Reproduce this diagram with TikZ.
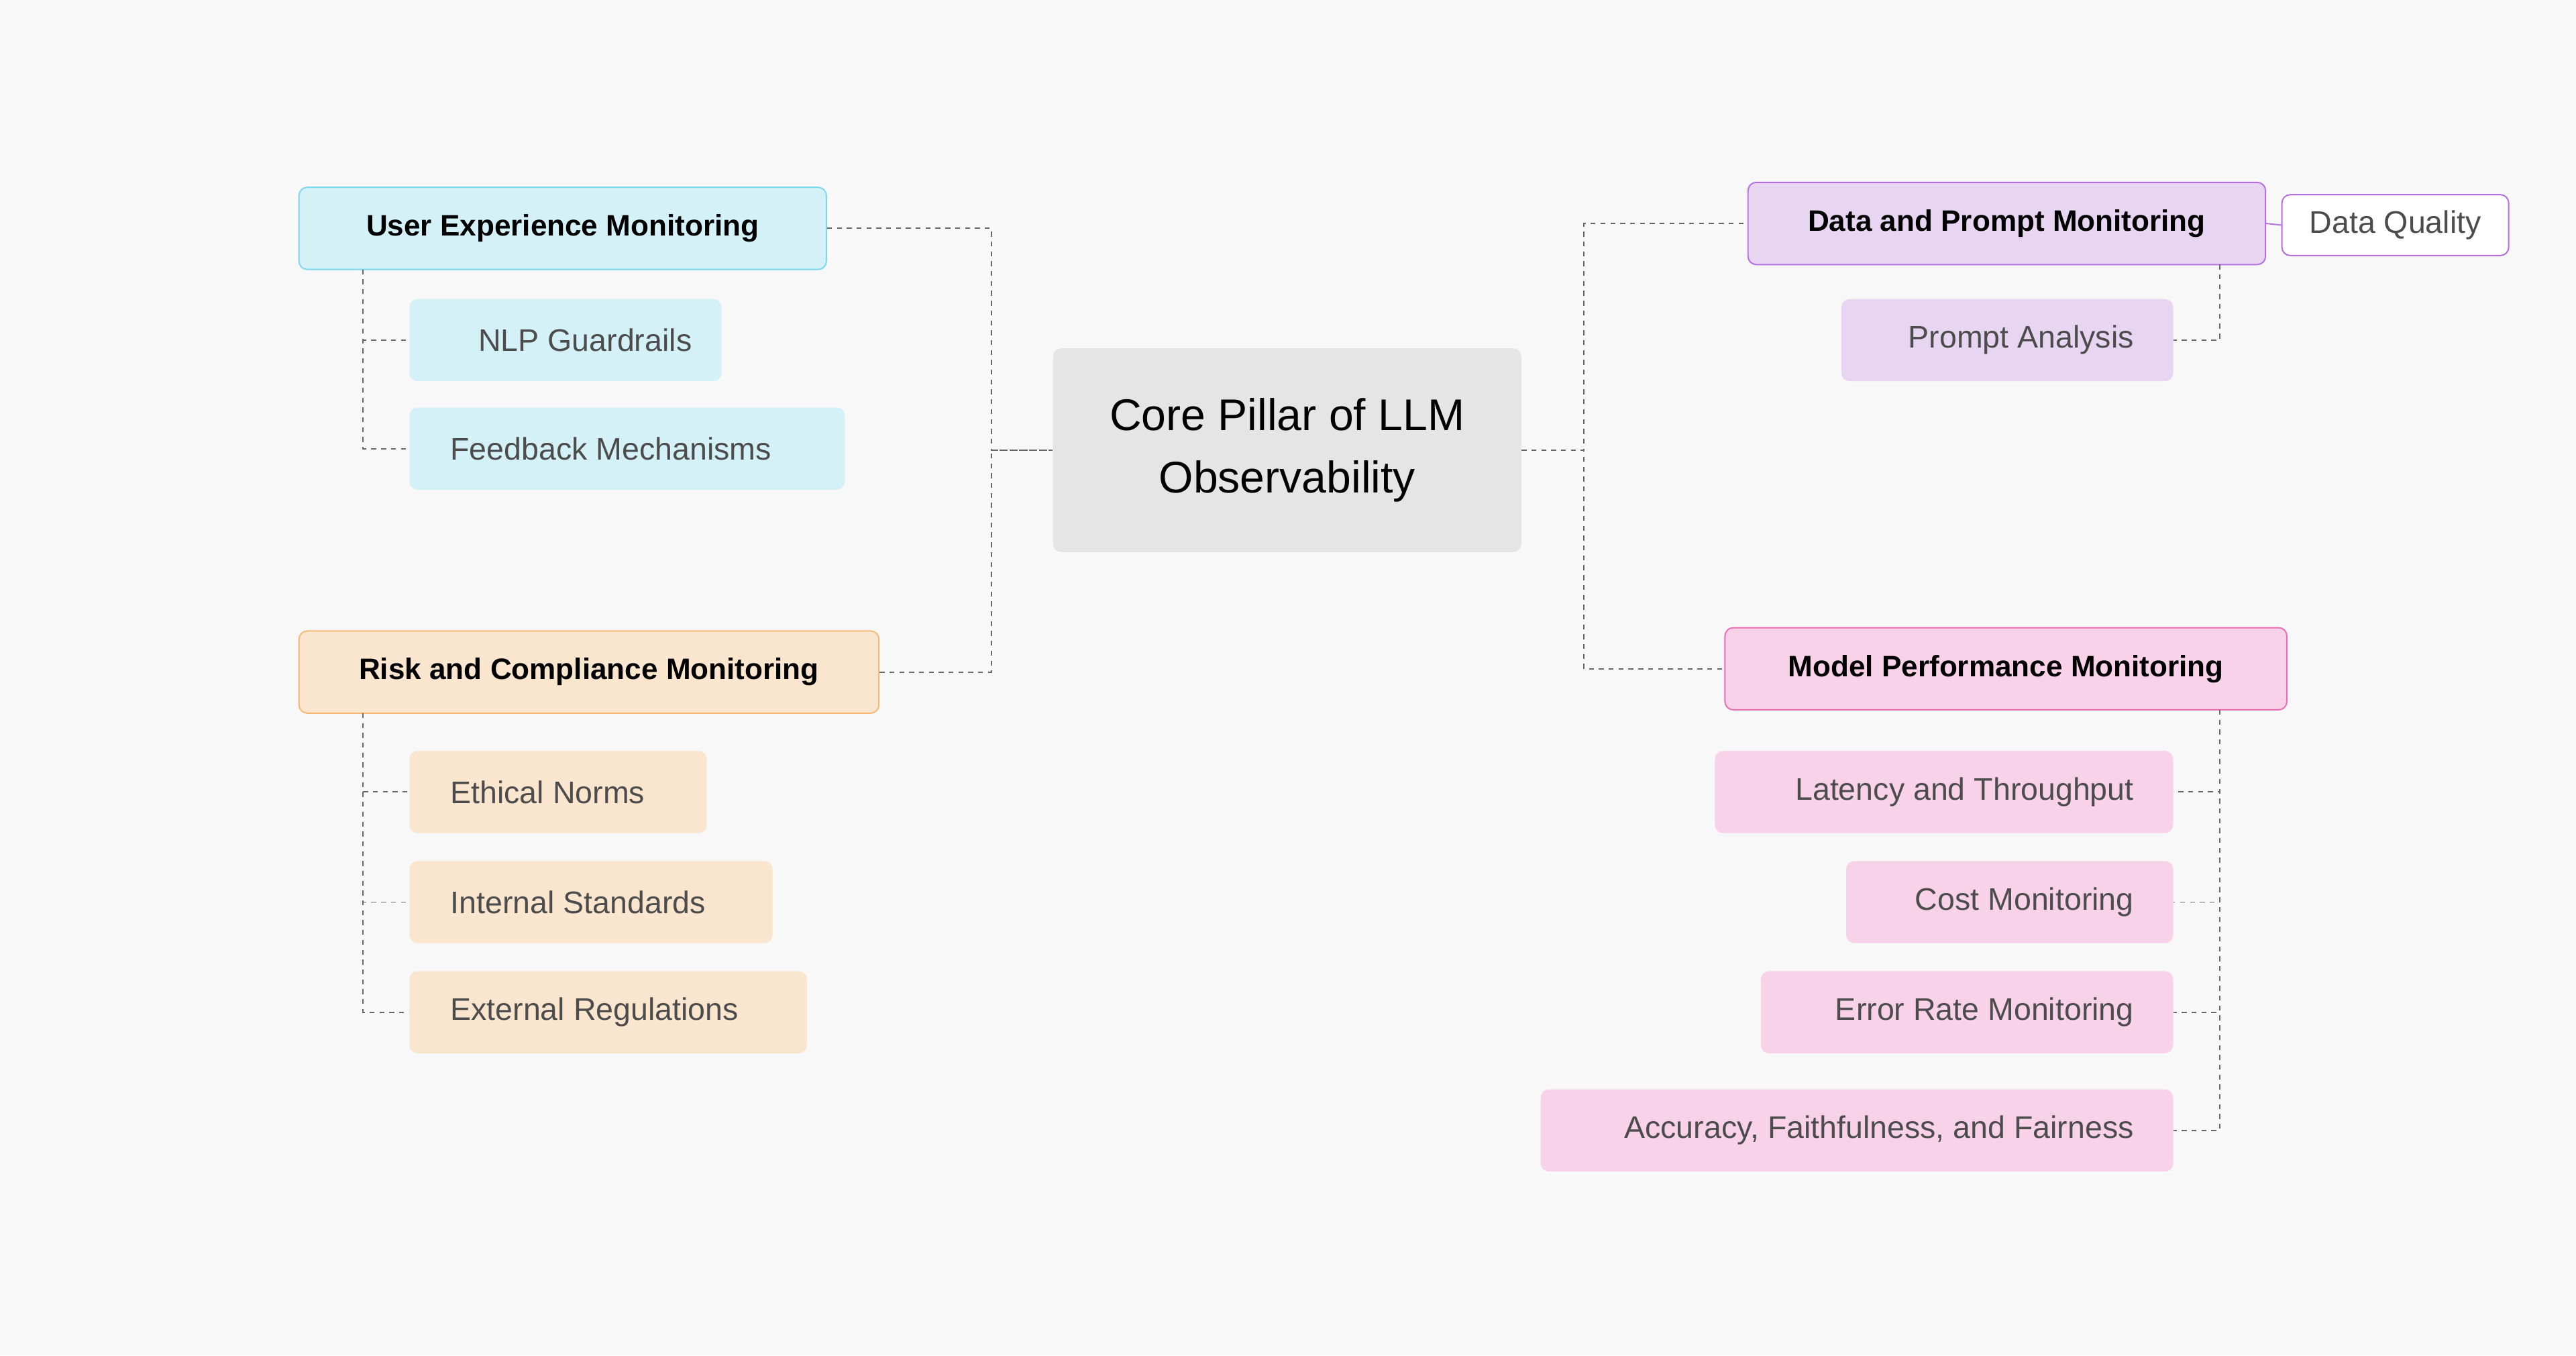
\documentclass[tikz,border=0pt]{standalone}
\usepackage{fontspec}
\setmainfont{Liberation Sans}
\begin{document}
\begin{tikzpicture}[x=1pt,y=-1pt,
  box/.style={draw=none,rounded corners=5pt,inner sep=0pt,text=black!70,font=\fontsize{19}{22}\selectfont},
  head/.style={rounded corners=5pt,line width=0.8pt,inner sep=0pt,text=black,font=\fontsize{18}{22}\selectfont\bfseries},
  con/.style={draw=black!60,dashed,line width=0.8pt,dash pattern=on 3pt off 3pt}]
\definecolor{bg}{HTML}{F8F8F8}
\definecolor{cyanF}{HTML}{D4F1F7}\definecolor{cyanD}{HTML}{7DD8EC}
\definecolor{orF}{HTML}{FAE6CF}\definecolor{orD}{HTML}{F4B877}
\definecolor{puF}{HTML}{E8D5F2}\definecolor{puD}{HTML}{B36FE0}
\definecolor{piF}{HTML}{F8D2E8}\definecolor{piD}{HTML}{EE6BB5}
\fill[bg] (0,0) rectangle (1568,825);
\useasboundingbox (0,0) rectangle (1568,825);
% core
\node[fill=black!10,rounded corners=5pt,minimum width=285pt,minimum height=124pt,align=center,font=\fontsize{27}{38}\selectfont,text=black] (core) at (783.5,274) {Core Pillar of LLM\\Observability};
% left
\node[head,fill=cyanF,draw=cyanD,minimum width=321pt,minimum height=50pt] (ux) at (342.5,139) {User Experience Monitoring};
\node[box,fill=cyanF,minimum width=190pt,minimum height=50pt,anchor=west] (nlp) at (249,207) {\hspace*{24pt}NLP Guardrails\hfill};
\node[box,fill=cyanF,minimum width=265pt,minimum height=50pt,anchor=west] (fb) at (249,273) {};
\node[box,anchor=west] at (274,273) {Feedback Mechanisms};
\node[head,fill=orF,draw=orD,minimum width=353pt,minimum height=50pt] (risk) at (358.5,409) {Risk and Compliance Monitoring};
\node[box,fill=orF,minimum width=181pt,minimum height=50pt,anchor=west] (eth) at (249,482) {};
\node[box,anchor=west] at (274,482) {Ethical Norms};
\node[box,fill=orF,minimum width=221pt,minimum height=50pt,anchor=west] (int) at (249,549) {};
\node[box,anchor=west] at (274,549) {Internal Standards};
\node[box,fill=orF,minimum width=242pt,minimum height=50pt,anchor=west] (ext) at (249,616) {};
\node[box,anchor=west] at (274,616) {External Regulations};
% right
\node[head,fill=puF,draw=puD,minimum width=315pt,minimum height=50pt] (dp) at (1221.5,136) {Data and Prompt Monitoring};
\node[box,fill=white,draw=puD,line width=0.8pt,minimum width=138pt,minimum height=37pt] (dq) at (1458,137) {Data Quality};
\node[box,fill=puF,minimum width=202pt,minimum height=50pt,anchor=east] (pa) at (1323,207) {};
\node[box,anchor=east] at (1299,207) {Prompt Analysis};
\node[head,fill=piF,draw=piD,minimum width=342pt,minimum height=50pt] (mp) at (1221,407) {Model Performance Monitoring};
\node[box,fill=piF,minimum width=279pt,minimum height=50pt,anchor=east] (lat) at (1323,482) {};
\node[box,anchor=east] at (1299,482) {Latency and Throughput};
\node[box,fill=piF,minimum width=199pt,minimum height=50pt,anchor=east] (cost) at (1323,549) {};
\node[box,anchor=east] at (1299,549) {Cost Monitoring};
\node[box,fill=piF,minimum width=251pt,minimum height=50pt,anchor=east] (err) at (1323,616) {};
\node[box,anchor=east] at (1299,616) {Error Rate Monitoring};
\node[box,fill=piF,minimum width=385pt,minimum height=50pt,anchor=east] (acc) at (1323,688) {};
\node[box,anchor=east] at (1299,688) {Accuracy, Faithfulness, and Fairness};
% connectors
\draw[con] (ux.east) -- ++(100,0) |- (core.west);
\draw[con] (risk.east) -- ++(68,0) |- (core.west);
\draw[con] (core.east) -- ++(38,0) |- (dp.west);
\draw[con] (core.east) -- ++(38,0) |- (mp.west);
\draw[con] (221,164) |- (nlp.west);
\draw[con] (221,164) |- (fb.west);
\draw[con] (221,434) |- (eth.west);
\draw[con] (221,434) |- (int.west);
\draw[con] (221,434) |- (ext.west);
\draw[con] (1351,161) |- (pa.east);
\draw[con] (1351,432) |- (lat.east);
\draw[con] (1351,432) |- (cost.east);
\draw[con] (1351,432) |- (err.east);
\draw[con] (1351,432) |- (acc.east);
\draw[puD,line width=0.8pt] (dp.east) -- (dq.west);
\end{tikzpicture}
\end{document}
